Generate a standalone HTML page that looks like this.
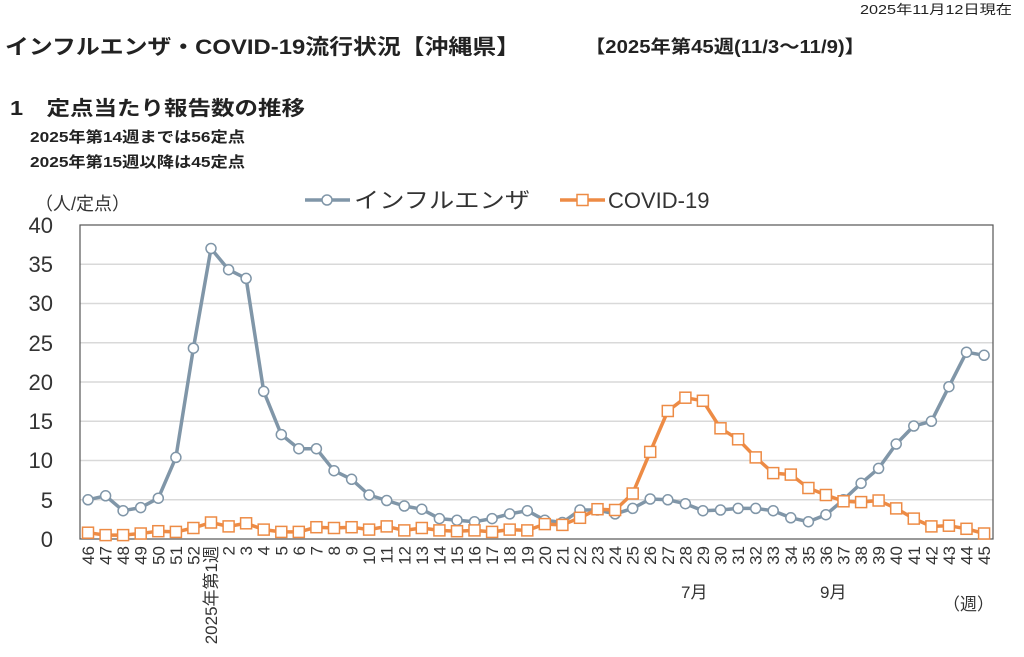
<!DOCTYPE html>
<html><head><meta charset="utf-8"><style>
body{margin:0;background:#fff;width:1024px;height:657px;overflow:hidden}
svg{display:block;font-family:"Liberation Sans","Noto Sans CJK JP",sans-serif}
</style></head><body>
<svg width="1024" height="657" viewBox="0 0 1024 657" xmlns="http://www.w3.org/2000/svg">
<text x="860" y="14" font-size="13" fill="#222" textLength="152" lengthAdjust="spacingAndGlyphs">2025年11月12日現在</text>
<text x="5" y="54" font-size="21" font-weight="bold" fill="#222" textLength="515" lengthAdjust="spacingAndGlyphs">インフルエンザ・COVID-19流行状況【沖縄県】</text>
<text x="585" y="53" font-size="18" font-weight="bold" fill="#222" textLength="280" lengthAdjust="spacingAndGlyphs">【2025年第45週(11/3～11/9)】</text>
<text x="10" y="115" font-size="20" font-weight="bold" fill="#222" textLength="295" lengthAdjust="spacingAndGlyphs">1　定点当たり報告数の推移</text>
<text x="30" y="142" font-size="15" font-weight="bold" fill="#222" textLength="215" lengthAdjust="spacingAndGlyphs">2025年第14週までは56定点</text>
<text x="30" y="167" font-size="15" font-weight="bold" fill="#222" textLength="215" lengthAdjust="spacingAndGlyphs">2025年第15週以降は45定点</text>
<text x="35" y="210" font-size="18" fill="#333">（人/定点）</text>
<line x1="305" y1="200" x2="350" y2="200" stroke="#8096a8" stroke-width="3.5"/>
<circle cx="327" cy="200" r="5" fill="#fff" stroke="#8096a8" stroke-width="1.5"/>
<text x="354" y="208" font-size="22" fill="#333" textLength="176" lengthAdjust="spacingAndGlyphs">インフルエンザ</text>
<line x1="560" y1="200" x2="605" y2="200" stroke="#ed8b45" stroke-width="3.5"/>
<rect x="577" y="194.5" width="11" height="11" fill="#fff" stroke="#ed8b45" stroke-width="1.5"/>
<text x="608" y="208" font-size="22" fill="#333">COVID-19</text>
<g stroke="#d9d9d9" stroke-width="1.5">
<line x1="80" y1="264.3" x2="993" y2="264.3"/><line x1="80" y1="303.5" x2="993" y2="303.5"/>
<line x1="80" y1="342.8" x2="993" y2="342.8"/><line x1="80" y1="382" x2="993" y2="382"/>
<line x1="80" y1="421.3" x2="993" y2="421.3"/><line x1="80" y1="460.5" x2="993" y2="460.5"/>
<line x1="80" y1="499.8" x2="993" y2="499.8"/>
</g>
<rect x="80" y="225" width="913" height="314" fill="none" stroke="#555" stroke-width="1.2"/>
<g font-size="22" fill="#333" text-anchor="end">
<text x="53" y="233">40</text><text x="53" y="272">35</text><text x="53" y="311">30</text>
<text x="53" y="351">25</text><text x="53" y="390">20</text><text x="53" y="429">15</text>
<text x="53" y="468">10</text><text x="53" y="508">5</text><text x="53" y="547">0</text>
</g>
<polyline fill="none" stroke="#8096a8" stroke-width="3.5" stroke-linejoin="round" points="88,499.8 105.6,495.8 123.1,510.7 140.7,507.6 158.3,498.2 175.9,457.4 193.4,348.2 211,248.5 228.6,269.7 246.1,278.4 263.7,391.4 281.3,434.6 298.8,448.7 316.4,448.7 334,470.7 351.6,479.3 369.1,495 386.7,500.5 404.3,506 421.8,509.2 439.4,518.6 457,520.2 474.5,521.7 492.1,518.6 509.7,513.9 527.3,510.7 544.8,520.2 562.4,522.5 580,510 597.5,510 615.1,513.9 632.7,508.4 650.2,499 667.8,499.8 685.4,503.7 702.9,510.7 720.5,510 738.1,508.4 755.7,508.4 773.2,510.7 790.8,517.8 808.4,521.7 825.9,514.7 843.5,499.8 861.1,483.3 878.6,468.4 896.2,444 913.8,426 931.4,421.3 948.9,386.7 966.5,352.2 984.1,355.3"/>
<polyline fill="none" stroke="#ed8b45" stroke-width="3.5" stroke-linejoin="round" points="88,532.7 105.6,535.1 123.1,535.1 140.7,533.5 158.3,531.2 175.9,531.9 193.4,528 211,522.5 228.6,526.4 246.1,523.3 263.7,529.6 281.3,531.9 298.8,531.9 316.4,527.2 334,528 351.6,527.2 369.1,529.6 386.7,526.4 404.3,530.4 421.8,528 439.4,530.4 457,531.2 474.5,530.4 492.1,531.9 509.7,529.6 527.3,530.4 544.8,524.1 562.4,524.9 580,517.8 597.5,509.2 615.1,510 632.7,493.5 650.2,451.9 667.8,411 685.4,397.7 702.9,400.8 720.5,428.3 738.1,439.3 755.7,457.4 773.2,473.1 790.8,474.6 808.4,488 825.9,495 843.5,501.3 861.1,502.1 878.6,500.5 896.2,508.4 913.8,518.6 931.4,526.4 948.9,525.7 966.5,528.8 984.1,533.5"/>
<g fill="#fff" stroke="#8096a8" stroke-width="1.5">
<circle cx="88" cy="499.8" r="5"/><circle cx="105.6" cy="495.8" r="5"/><circle cx="123.1" cy="510.7" r="5"/><circle cx="140.7" cy="507.6" r="5"/><circle cx="158.3" cy="498.2" r="5"/><circle cx="175.9" cy="457.4" r="5"/><circle cx="193.4" cy="348.2" r="5"/><circle cx="211" cy="248.5" r="5"/><circle cx="228.6" cy="269.7" r="5"/><circle cx="246.1" cy="278.4" r="5"/><circle cx="263.7" cy="391.4" r="5"/><circle cx="281.3" cy="434.6" r="5"/><circle cx="298.8" cy="448.7" r="5"/><circle cx="316.4" cy="448.7" r="5"/><circle cx="334" cy="470.7" r="5"/><circle cx="351.6" cy="479.3" r="5"/><circle cx="369.1" cy="495" r="5"/><circle cx="386.7" cy="500.5" r="5"/><circle cx="404.3" cy="506" r="5"/><circle cx="421.8" cy="509.2" r="5"/><circle cx="439.4" cy="518.6" r="5"/><circle cx="457" cy="520.2" r="5"/><circle cx="474.5" cy="521.7" r="5"/><circle cx="492.1" cy="518.6" r="5"/><circle cx="509.7" cy="513.9" r="5"/><circle cx="527.3" cy="510.7" r="5"/><circle cx="544.8" cy="520.2" r="5"/><circle cx="562.4" cy="522.5" r="5"/><circle cx="580" cy="510" r="5"/><circle cx="597.5" cy="510" r="5"/><circle cx="615.1" cy="513.9" r="5"/><circle cx="632.7" cy="508.4" r="5"/><circle cx="650.2" cy="499" r="5"/><circle cx="667.8" cy="499.8" r="5"/><circle cx="685.4" cy="503.7" r="5"/><circle cx="702.9" cy="510.7" r="5"/><circle cx="720.5" cy="510" r="5"/><circle cx="738.1" cy="508.4" r="5"/><circle cx="755.7" cy="508.4" r="5"/><circle cx="773.2" cy="510.7" r="5"/><circle cx="790.8" cy="517.8" r="5"/><circle cx="808.4" cy="521.7" r="5"/><circle cx="825.9" cy="514.7" r="5"/><circle cx="843.5" cy="499.8" r="5"/><circle cx="861.1" cy="483.3" r="5"/><circle cx="878.6" cy="468.4" r="5"/><circle cx="896.2" cy="444" r="5"/><circle cx="913.8" cy="426" r="5"/><circle cx="931.4" cy="421.3" r="5"/><circle cx="948.9" cy="386.7" r="5"/><circle cx="966.5" cy="352.2" r="5"/><circle cx="984.1" cy="355.3" r="5"/>
</g>
<g fill="#fff" stroke="#ed8b45" stroke-width="1.5" transform="translate(-5.5,-5.5)">
<rect x="88" y="532.7" width="11" height="11"/><rect x="105.6" y="535.1" width="11" height="11"/><rect x="123.1" y="535.1" width="11" height="11"/><rect x="140.7" y="533.5" width="11" height="11"/><rect x="158.3" y="531.2" width="11" height="11"/><rect x="175.9" y="531.9" width="11" height="11"/><rect x="193.4" y="528" width="11" height="11"/><rect x="211" y="522.5" width="11" height="11"/><rect x="228.6" y="526.4" width="11" height="11"/><rect x="246.1" y="523.3" width="11" height="11"/><rect x="263.7" y="529.6" width="11" height="11"/><rect x="281.3" y="531.9" width="11" height="11"/><rect x="298.8" y="531.9" width="11" height="11"/><rect x="316.4" y="527.2" width="11" height="11"/><rect x="334" y="528" width="11" height="11"/><rect x="351.6" y="527.2" width="11" height="11"/><rect x="369.1" y="529.6" width="11" height="11"/><rect x="386.7" y="526.4" width="11" height="11"/><rect x="404.3" y="530.4" width="11" height="11"/><rect x="421.8" y="528" width="11" height="11"/><rect x="439.4" y="530.4" width="11" height="11"/><rect x="457" y="531.2" width="11" height="11"/><rect x="474.5" y="530.4" width="11" height="11"/><rect x="492.1" y="531.9" width="11" height="11"/><rect x="509.7" y="529.6" width="11" height="11"/><rect x="527.3" y="530.4" width="11" height="11"/><rect x="544.8" y="524.1" width="11" height="11"/><rect x="562.4" y="524.9" width="11" height="11"/><rect x="580" y="517.8" width="11" height="11"/><rect x="597.5" y="509.2" width="11" height="11"/><rect x="615.1" y="510" width="11" height="11"/><rect x="632.7" y="493.5" width="11" height="11"/><rect x="650.2" y="451.9" width="11" height="11"/><rect x="667.8" y="411" width="11" height="11"/><rect x="685.4" y="397.7" width="11" height="11"/><rect x="702.9" y="400.8" width="11" height="11"/><rect x="720.5" y="428.3" width="11" height="11"/><rect x="738.1" y="439.3" width="11" height="11"/><rect x="755.7" y="457.4" width="11" height="11"/><rect x="773.2" y="473.1" width="11" height="11"/><rect x="790.8" y="474.6" width="11" height="11"/><rect x="808.4" y="488" width="11" height="11"/><rect x="825.9" y="495" width="11" height="11"/><rect x="843.5" y="501.3" width="11" height="11"/><rect x="861.1" y="502.1" width="11" height="11"/><rect x="878.6" y="500.5" width="11" height="11"/><rect x="896.2" y="508.4" width="11" height="11"/><rect x="913.8" y="518.6" width="11" height="11"/><rect x="931.4" y="526.4" width="11" height="11"/><rect x="948.9" y="525.7" width="11" height="11"/><rect x="966.5" y="528.8" width="11" height="11"/><rect x="984.1" y="533.5" width="11" height="11"/>
</g>
<g font-size="17" fill="#333" text-anchor="end">
<text transform="translate(94,546) rotate(-90)">46</text><text transform="translate(111.6,546) rotate(-90)">47</text><text transform="translate(129.1,546) rotate(-90)">48</text><text transform="translate(146.7,546) rotate(-90)">49</text><text transform="translate(164.3,546) rotate(-90)">50</text><text transform="translate(181.9,546) rotate(-90)">51</text><text transform="translate(199.4,546) rotate(-90)">52</text><text transform="translate(217,546) rotate(-90)">2025年第1週</text><text transform="translate(234.6,546) rotate(-90)">2</text><text transform="translate(252.1,546) rotate(-90)">3</text><text transform="translate(269.7,546) rotate(-90)">4</text><text transform="translate(287.3,546) rotate(-90)">5</text><text transform="translate(304.8,546) rotate(-90)">6</text><text transform="translate(322.4,546) rotate(-90)">7</text><text transform="translate(340,546) rotate(-90)">8</text><text transform="translate(357.6,546) rotate(-90)">9</text><text transform="translate(375.1,546) rotate(-90)">10</text><text transform="translate(392.7,546) rotate(-90)">11</text><text transform="translate(410.3,546) rotate(-90)">12</text><text transform="translate(427.8,546) rotate(-90)">13</text><text transform="translate(445.4,546) rotate(-90)">14</text><text transform="translate(463,546) rotate(-90)">15</text><text transform="translate(480.5,546) rotate(-90)">16</text><text transform="translate(498.1,546) rotate(-90)">17</text><text transform="translate(515.7,546) rotate(-90)">18</text><text transform="translate(533.3,546) rotate(-90)">19</text><text transform="translate(550.8,546) rotate(-90)">20</text><text transform="translate(568.4,546) rotate(-90)">21</text><text transform="translate(586,546) rotate(-90)">22</text><text transform="translate(603.5,546) rotate(-90)">23</text><text transform="translate(621.1,546) rotate(-90)">24</text><text transform="translate(638.7,546) rotate(-90)">25</text><text transform="translate(656.2,546) rotate(-90)">26</text><text transform="translate(673.8,546) rotate(-90)">27</text><text transform="translate(691.4,546) rotate(-90)">28</text><text transform="translate(708.9,546) rotate(-90)">29</text><text transform="translate(726.5,546) rotate(-90)">30</text><text transform="translate(744.1,546) rotate(-90)">31</text><text transform="translate(761.7,546) rotate(-90)">32</text><text transform="translate(779.2,546) rotate(-90)">33</text><text transform="translate(796.8,546) rotate(-90)">34</text><text transform="translate(814.4,546) rotate(-90)">35</text><text transform="translate(831.9,546) rotate(-90)">36</text><text transform="translate(849.5,546) rotate(-90)">37</text><text transform="translate(867.1,546) rotate(-90)">38</text><text transform="translate(884.6,546) rotate(-90)">39</text><text transform="translate(902.2,546) rotate(-90)">40</text><text transform="translate(919.8,546) rotate(-90)">41</text><text transform="translate(937.4,546) rotate(-90)">42</text><text transform="translate(954.9,546) rotate(-90)">43</text><text transform="translate(972.5,546) rotate(-90)">44</text><text transform="translate(990.1,546) rotate(-90)">45</text>
</g>
<text x="681" y="598" font-size="17" fill="#333">7月</text>
<text x="820" y="598" font-size="17" fill="#333">9月</text>
<text x="943" y="610" font-size="17" fill="#333">（週）</text>
</svg>
</body></html>
